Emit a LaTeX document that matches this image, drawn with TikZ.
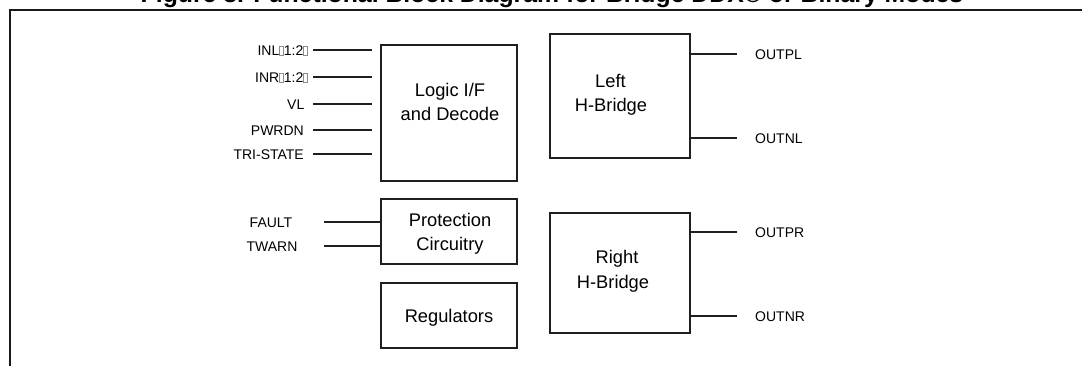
\documentclass[tikz,border=0pt]{standalone}
\usepackage{fontspec}
\setmainfont{Liberation Sans}
\newcommand{\missglyph}{{\color{black!45}\fboxsep0pt\fboxrule0.5pt\fbox{\rule{0pt}{9pt}\hspace{3.5pt}}}}
\begin{document}
\begin{tikzpicture}[x=1pt,y=-1pt,
  blk/.style={draw=black!88, line width=1.5pt, inner sep=0pt, minimum width=136pt},
  wire/.style={draw=black!88, line width=1.2pt},
  lbl/.style={font=\fontsize{14}{16}\selectfont, inner sep=0pt},
  btxt/.style={font=\fontsize{18.3}{22}\selectfont, inner sep=0pt, anchor=base},
  frame/.style={draw=black!90, line width=1.8pt}]
\useasboundingbox (0,0) rectangle (1082,365);
\clip (0,0) rectangle (1082,365);
% title (mostly cut off at the top)
\node[font=\bfseries\fontsize{24.8}{28}\selectfont, anchor=base, inner sep=0pt] (title) at (552,2)
  {Figure 3. Functional Block Diagram for Bridge DDX\textregistered{} or Binary Modes};
% frame
\coordinate (fbl) at (10,420);
\coordinate (ftl) at (10,10);
\coordinate (ftr) at (1120,10);
\draw[frame] (fbl) -- (ftl) -- (ftr);
% blocks
\node[blk, minimum height=136pt] (logic) at (449,113) {};
\node[blk, minimum height=65pt] (prot) at (449,231.5) {};
\node[blk, minimum height=65pt] (reg) at (449,315.5) {};
\node[blk, minimum width=140pt, minimum height=124pt] (lhb) at (620,96) {};
\node[blk, minimum width=140pt, minimum height=120pt] (rhb) at (620,273) {};
% block texts
\node[btxt] (logicA) at (450,96) {Logic I/F};
\node[btxt] (logicB) at (450,120) {and Decode};
\node[btxt] (protA) at (450,226) {Protection};
\node[btxt] (protB) at (450,250.5) {Circuitry};
\node[btxt] (regA) at (449,322) {Regulators};
\node[btxt] (lhbA) at (610.5,87.3) {Left};
\node[btxt] (lhbB) at (611,111.7) {H-Bridge};
\node[btxt] (rhbA) at (617,263) {Right};
\node[btxt] (rhbB) at (613,288) {H-Bridge};
% input labels
\node[lbl, anchor=base east] (inl) at (308,55) {INL\missglyph1:2\missglyph};
\node[lbl, anchor=base east] (inr) at (308,82) {INR\missglyph1:2\missglyph};
\node[lbl, anchor=base east] (vl) at (304.5,109) {VL};
\node[lbl, anchor=base east] (pwrdn) at (304,135) {PWRDN};
\node[lbl, anchor=base east] (tri) at (304,159) {TRI-STATE};
\node[lbl, anchor=base] (fault) at (271,227.5) {FAULT};
\node[lbl, anchor=base] (twarn) at (272,251) {TWARN};
% input wires
\coordinate (inl-s) at (313,50);   \coordinate (inl-e) at (372,50);
\coordinate (inr-s) at (313,77);   \coordinate (inr-e) at (372,77);
\coordinate (vl-s) at (313,104);   \coordinate (vl-e) at (372,104);
\coordinate (pw-s) at (313,130);   \coordinate (pw-e) at (372,130);
\coordinate (tri-s) at (313,154);  \coordinate (tri-e) at (372,154);
\draw[wire] (inl-s) -- (inl-e);
\draw[wire] (inr-s) -- (inr-e);
\draw[wire] (vl-s) -- (vl-e);
\draw[wire] (pw-s) -- (pw-e);
\draw[wire] (tri-s) -- (tri-e);
\coordinate (fault-s) at (324,222);
\coordinate (twarn-s) at (324,246);
\draw[wire] (fault-s) -- (fault-s -| prot.west);
\draw[wire] (twarn-s) -- (twarn-s -| prot.west);
% output wires and labels
\coordinate (opl) at (737,54);
\coordinate (onl) at (737,138);
\coordinate (opr) at (737,232);
\coordinate (onr) at (737,316);
\draw[wire] (opl -| lhb.east) -- (opl);
\draw[wire] (onl -| lhb.east) -- (onl);
\draw[wire] (opr -| rhb.east) -- (opr);
\draw[wire] (onr -| rhb.east) -- (onr);
\node[lbl, anchor=base west] (outpl) at (755,59) {OUTPL};
\node[lbl, anchor=base west] (outnl) at (755,143) {OUTNL};
\node[lbl, anchor=base west] (outpr) at (755,237) {OUTPR};
\node[lbl, anchor=base west] (outnr) at (755,321) {OUTNR};
\end{tikzpicture}
\end{document}
